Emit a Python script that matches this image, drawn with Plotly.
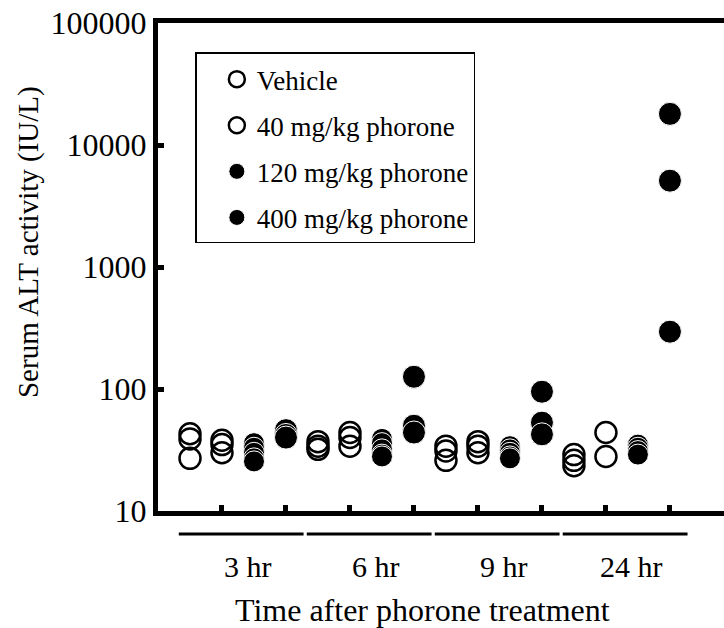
import plotly.graph_objects as go

time_groups = ["3 hr", "6 hr", "9 hr", "24 hr"]
doses = ["Vehicle", "40 mg/kg phorone", "120 mg/kg phorone", "400 mg/kg phorone"]

# Serum ALT (IU/L) per animal, per time group
vehicle = [[43, 39, 27], [37, 34, 32], [34, 31, 26], [29, 26, 23.5]]
mg40 = [[38, 35, 30], [44, 40, 34], [37, 34, 30], [44, 28]]
mg120 = [[36, 33, 30, 27, 25.5], [39, 36, 32, 29, 28], [34, 32, 30, 28, 27], [35, 33, 31, 29]]
mg400 = [[46, 42, 40], [126, 50, 44], [95, 53, 42.5], [18000, 5100, 295]]

series = [vehicle, mg40, mg120, mg400]
symbols = ["circle-open", "circle-open", "circle", "circle"]
sizes = [21, 21, 21, 23]

ytick_vals = [10, 100, 1000, 10000, 100000]
ytick_text = ["10", "100", "1000", "10000", "100000"]

FONT = "Liberation Serif, Times New Roman, serif"

fig = go.Figure()
for d, (name, data) in enumerate(zip(doses, series)):
    xs, ys = [], []
    for g, vals in enumerate(data):
        for v in vals:
            xs.append(g * 4 + d)
            ys.append(v)
    filled = symbols[d] == "circle"
    fig.add_trace(go.Scatter(
        x=xs, y=ys, mode="markers", name=name, legendgroup=name,
        marker=dict(symbol=symbols[d], size=sizes[d], color="black",
                    line=dict(color="white" if filled else "black", width=1 if filled else 2.5)),
    ))

n_groups = len(time_groups)
tickpos = []
for g in range(n_groups):
    tickpos += [g * 4 + 1, g * 4 + 3]

fig.update_xaxes(
    range=[-1.0, 16.69], showline=True, linewidth=5, linecolor="black", mirror=True,
    tickvals=tickpos, ticktext=[""] * len(tickpos), ticks="inside", ticklen=6, tickwidth=5,
    tickcolor="black", showgrid=False, zeroline=False,
)
fig.update_yaxes(
    type="log", range=[1, 5], showline=True, linewidth=5, linecolor="black",
    tickvals=ytick_vals, ticktext=ytick_text, ticks="inside", ticklen=6, tickwidth=5,
    tickcolor="black", showgrid=False, zeroline=False,
    tickfont=dict(family=FONT, size=32, color="black"),
)

shapes = []
annotations = []
for g, lab in enumerate(time_groups):
    shapes.append(dict(type="line", xref="x", yref="paper", x0=g * 4 - 0.35, x1=g * 4 + 3.55,
                       y0=-0.047, y1=-0.047, line=dict(color="black", width=3)))
    annotations.append(dict(text=lab, xref="x", yref="paper", x=g * 4 + 1.8, y=-0.113,
                            showarrow=False, xanchor="center", yanchor="middle",
                            font=dict(family=FONT, size=30, color="black")))

annotations.append(dict(text="Time after phorone treatment", xref="paper", yref="paper",
                        x=0.467, y=-0.203, showarrow=False, xanchor="center", yanchor="middle",
                        font=dict(family=FONT, size=32, color="black")))
annotations.append(dict(text="Serum ALT activity (IU/L)", xref="paper", yref="paper",
                        x=-0.229, y=0.552, showarrow=False, textangle=-90,
                        xanchor="center", yanchor="middle",
                        font=dict(family=FONT, size=29, color="black")))

fig.update_layout(
    width=724, height=628,
    margin=dict(l=158, r=0, t=23, b=117),
    plot_bgcolor="white", paper_bgcolor="white",
    shapes=shapes, annotations=annotations,
    showlegend=True,
    legend=dict(x=0.066, y=0.94, xanchor="left", yanchor="top",
                bordercolor="black", borderwidth=1.5, bgcolor="white",
                font=dict(family=FONT, size=27, color="black"),
                title=dict(text=" ", font=dict(size=1)),
                indentation=20,
                tracegroupgap=8, itemsizing="trace"),
)

fig.write_html("out.html")
